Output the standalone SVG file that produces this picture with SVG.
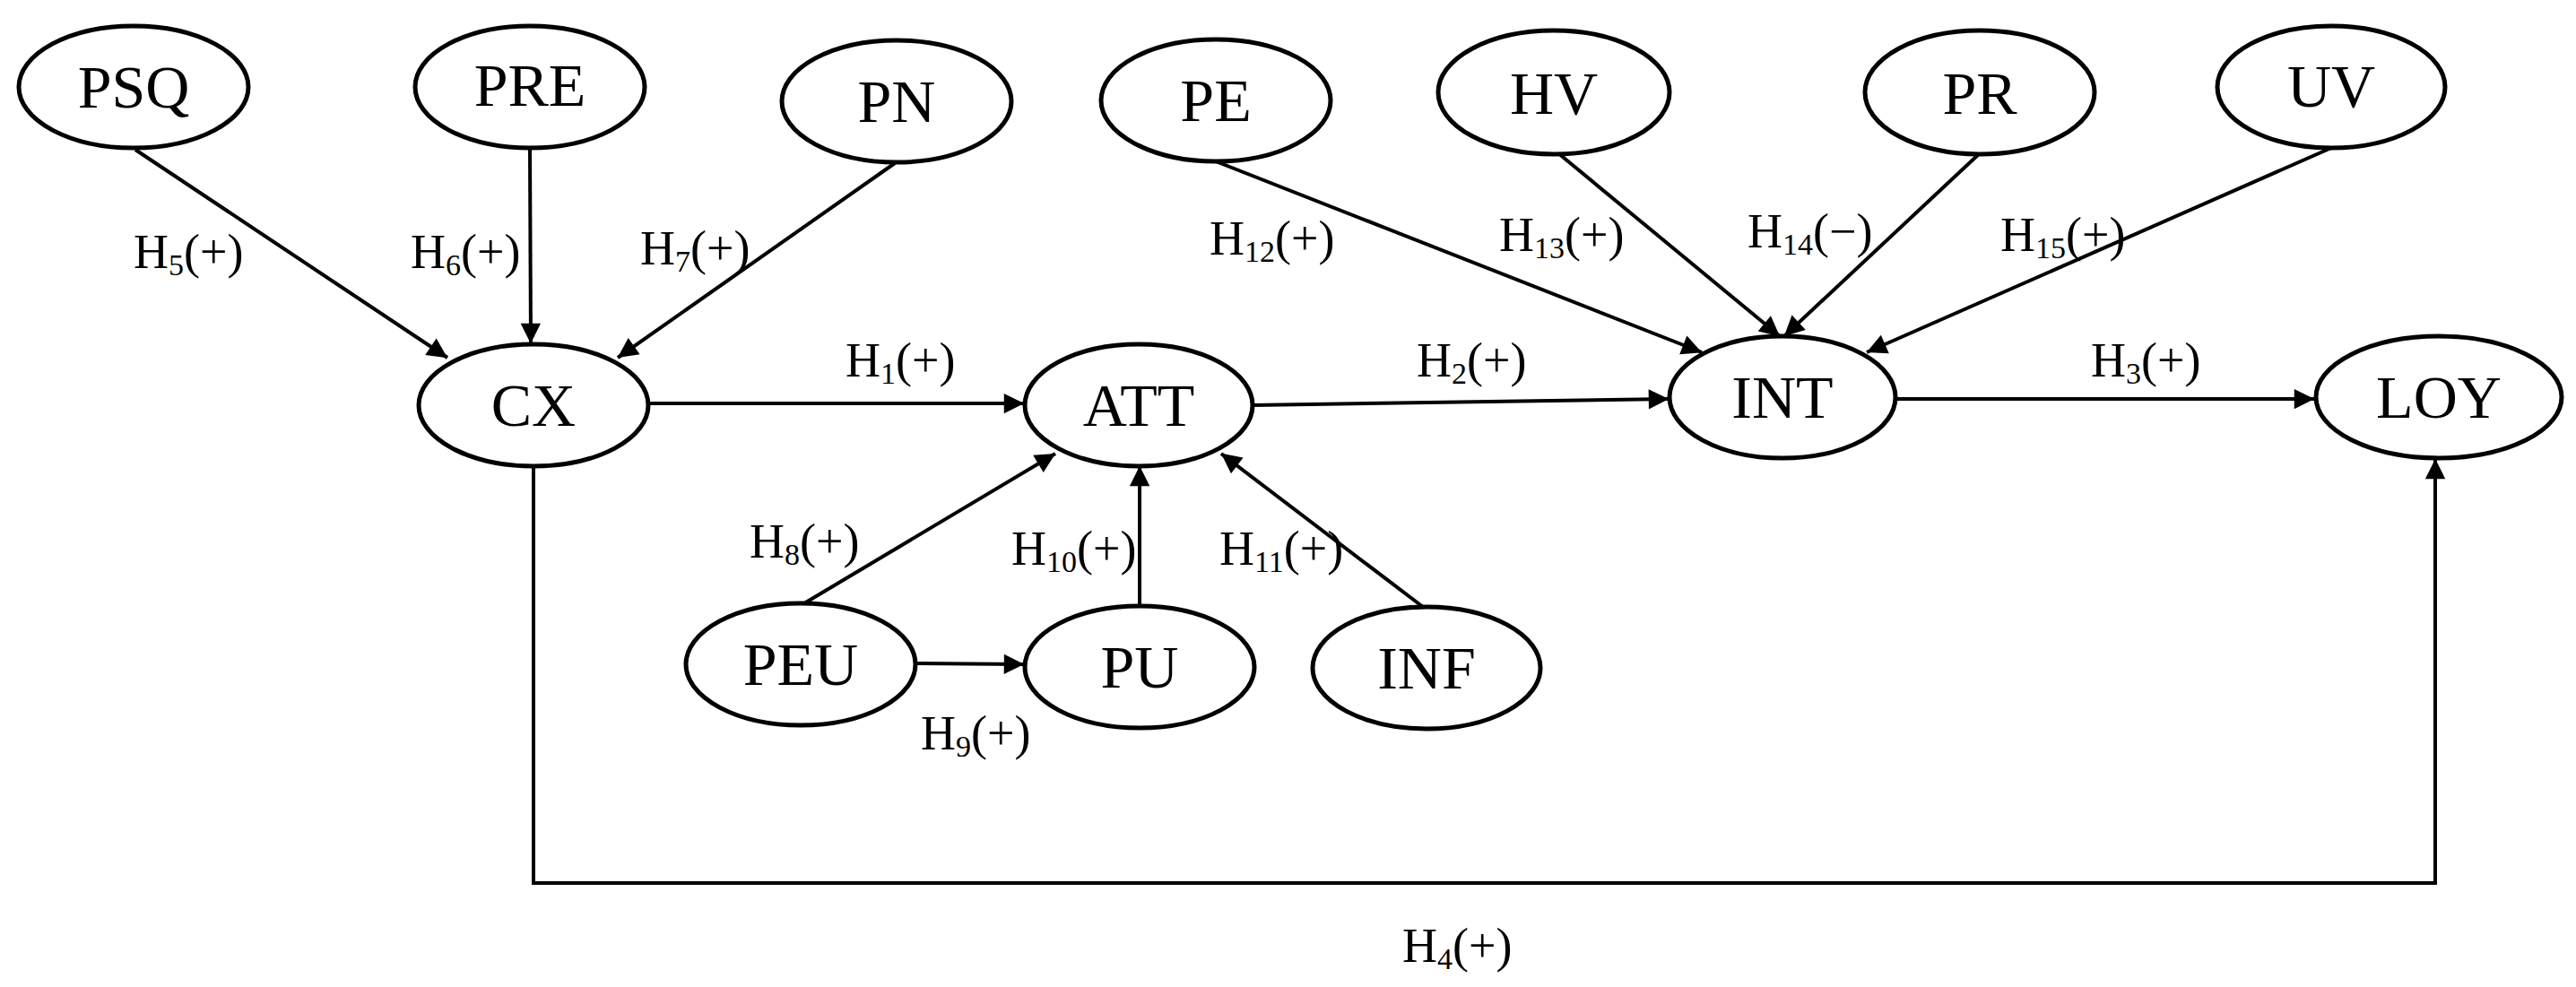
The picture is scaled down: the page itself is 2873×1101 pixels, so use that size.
<svg xmlns="http://www.w3.org/2000/svg" width="2873" height="1101" viewBox="0 0 2873 1101">
<style>
.n ellipse{fill:#fff;stroke:#000;stroke-width:5}
.n text{font-family:"Liberation Serif",serif;font-size:68px;text-anchor:middle}
.c line,.c polyline{stroke:#000;stroke-width:4;fill:none;marker-end:url(#a)}
.l text{font-family:"Liberation Serif",serif;font-size:54px}
.s{font-size:34px}
</style>
<defs><marker id="a" viewBox="0 0 10 10" refX="10" refY="5" markerWidth="7" markerHeight="7" markerUnits="userSpaceOnUse" orient="auto" style="overflow:visible"><path d="M0,0L10,5L0,10z" transform="scale(3.2) translate(-6.8,-3.4)"/></marker></defs>
<rect width="2873" height="1101" fill="#fff"/>
<g class="c">
<line x1="151" y1="167" x2="499" y2="399"/>
<line x1="591" y1="167" x2="592" y2="383"/>
<line x1="998" y1="182" x2="689" y2="399"/>
<line x1="723" y1="450" x2="1142" y2="450"/>
<line x1="1397" y1="452" x2="1861" y2="445"/>
<line x1="2114" y1="445" x2="2581" y2="445"/>
<line x1="1356" y1="180" x2="1898" y2="393"/>
<line x1="1738" y1="171" x2="1985" y2="375"/>
<line x1="2208" y1="171" x2="1990" y2="375"/>
<line x1="2600" y1="165" x2="2082" y2="393"/>
<line x1="897" y1="673" x2="1177" y2="506"/>
<line x1="1271" y1="676" x2="1271" y2="520"/>
<line x1="1587" y1="677" x2="1362" y2="506"/>
<line x1="1021" y1="740" x2="1142" y2="741"/>
<polyline points="595,520 595,985 2716,985 2716,512"/>
</g>
<g class="n" id="PSQ"><ellipse cx="149" cy="97" rx="128" ry="68"/><text x="149" y="120">PSQ</text></g>
<g class="n" id="PRE"><ellipse cx="591" cy="97" rx="128" ry="68"/><text x="591" y="118">PRE</text></g>
<g class="n" id="PN"><ellipse cx="1000" cy="113" rx="128" ry="68"/><text x="1000" y="136">PN</text></g>
<g class="n" id="PE"><ellipse cx="1356" cy="112" rx="128" ry="68"/><text x="1356" y="135">PE</text></g>
<g class="n" id="HV"><ellipse cx="1733" cy="103" rx="129" ry="69"/><text x="1733" y="127">HV</text></g>
<g class="n" id="PR"><ellipse cx="2208" cy="103" rx="128" ry="69"/><text x="2208" y="127">PR</text></g>
<g class="n" id="UV"><ellipse cx="2600" cy="97" rx="127" ry="68"/><text x="2600" y="119">UV</text></g>
<g class="n" id="CX"><ellipse cx="595" cy="452" rx="128" ry="68"/><text x="595" y="475">CX</text></g>
<g class="n" id="ATT"><ellipse cx="1270" cy="452" rx="127" ry="68"/><text x="1270" y="475">ATT</text></g>
<g class="n" id="INT"><ellipse cx="1988" cy="443" rx="126" ry="68"/><text x="1988" y="466">INT</text></g>
<g class="n" id="LOY"><ellipse cx="2720" cy="443" rx="137" ry="68"/><text x="2720" y="466">LOY</text></g>
<g class="n" id="PEU"><ellipse cx="893" cy="741" rx="128" ry="68"/><text x="893" y="764">PEU</text></g>
<g class="n" id="PU"><ellipse cx="1271" cy="744" rx="128" ry="68"/><text x="1271" y="767">PU</text></g>
<g class="n" id="INF"><ellipse cx="1591" cy="745" rx="127" ry="68"/><text x="1591" y="768">INF</text></g>
<g class="l">
<text x="149" y="299">H<tspan class="s" dy="8">5</tspan><tspan dy="-8">(+)</tspan></text>
<text x="458" y="299">H<tspan class="s" dy="8">6</tspan><tspan dy="-8">(+)</tspan></text>
<text x="714" y="295">H<tspan class="s" dy="8">7</tspan><tspan dy="-8">(+)</tspan></text>
<text x="1349" y="284">H<tspan class="s" dy="8">12</tspan><tspan dy="-8">(+)</tspan></text>
<text x="1672" y="280">H<tspan class="s" dy="8">13</tspan><tspan dy="-8">(+)</tspan></text>
<text x="1949" y="276">H<tspan class="s" dy="8">14</tspan><tspan dy="-8">(−)</tspan></text>
<text x="2231" y="280">H<tspan class="s" dy="8">15</tspan><tspan dy="-8">(+)</tspan></text>
<text x="943" y="420">H<tspan class="s" dy="8">1</tspan><tspan dy="-8">(+)</tspan></text>
<text x="1580" y="420">H<tspan class="s" dy="8">2</tspan><tspan dy="-8">(+)</tspan></text>
<text x="2332" y="420">H<tspan class="s" dy="8">3</tspan><tspan dy="-8">(+)</tspan></text>
<text x="836" y="622">H<tspan class="s" dy="8">8</tspan><tspan dy="-8">(+)</tspan></text>
<text x="1128" y="630">H<tspan class="s" dy="8">10</tspan><tspan dy="-8">(+)</tspan></text>
<text x="1360" y="630">H<tspan class="s" dy="8">11</tspan><tspan dy="-8">(+)</tspan></text>
<text x="1027" y="836">H<tspan class="s" dy="8">9</tspan><tspan dy="-8">(+)</tspan></text>
<text x="1564" y="1073">H<tspan class="s" dy="8">4</tspan><tspan dy="-8">(+)</tspan></text>
</g>
</svg>
